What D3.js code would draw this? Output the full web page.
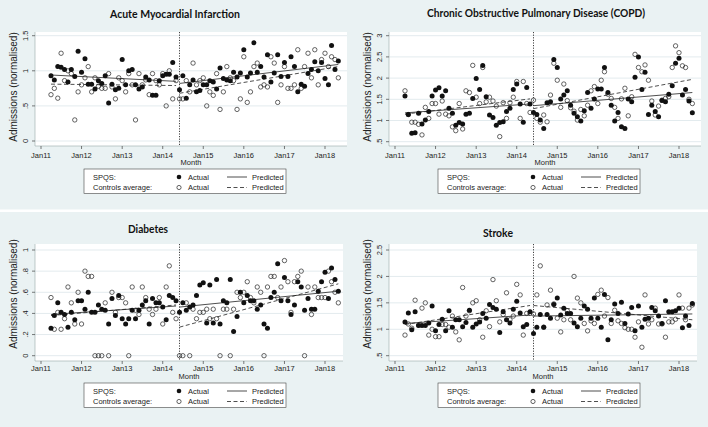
<!DOCTYPE html>
<html><head><meta charset="utf-8">
<script src="https://cdn.jsdelivr.net/npm/d3@7"></script>
<style>body{margin:0;background:#fff}svg{display:block}</style>
</head><body>
<svg id="c" width="708" height="427"></svg>
<script>
// ---- data ----
const months = d3.range(86).map(i => new Date(2011, 3 + i, 1)); // Apr 2011 .. May 2018
const tickDates = d3.range(2011, 2019).map(y => new Date(y, 0, 1));
const tickLabels = ["Jan11","Jan12","Jan13","Jan14","Jan15","Jan16","Jan17","Jan18"];
const interventionDate = new Date(2014, 5, 1);
const preStart = new Date(2011, 3, 1), preEnd = new Date(2014, 4, 1);
const postStart = new Date(2014, 5, 1), postEnd = new Date(2018, 4, 1);

const titles = ["Acute Myocardial Infarction","Chronic Obstructive Pulmonary Disease (COPD)","Diabetes","Stroke"];

const amiSpqs = [0.93,0.87,1.06,1.05,1.02,0.84,1.02,0.92,1.28,0.98,1.17,0.81,0.81,0.74,0.86,0.82,0.93,0.54,0.81,0.73,0.75,1.16,0.80,1.00,1.02,0.80,0.74,0.77,0.91,0.87,0.65,0.65,0.86,0.93,0.95,0.95,1.12,0.91,0.73,0.93,0.61,0.80,0.87,0.70,0.72,0.80,0.80,0.86,0.84,0.74,1.04,0.89,0.87,0.86,0.98,0.91,0.97,1.30,0.91,0.97,1.40,0.98,1.06,0.91,1.23,0.84,0.97,1.23,0.92,1.12,0.92,1.20,1.06,0.70,0.81,0.78,0.96,1.02,1.13,1.00,1.12,0.89,0.80,1.36,1.02,1.14];
const amiControls = [0.66,0.75,0.61,1.25,0.86,1.00,0.96,0.30,0.70,0.80,0.90,1.06,0.70,0.90,0.78,0.75,0.75,0.96,0.77,0.60,0.90,0.86,0.70,0.96,0.80,0.30,0.96,0.80,0.87,0.66,0.96,0.86,0.80,0.96,0.50,1.00,0.60,0.86,0.60,0.60,0.86,0.70,1.11,0.80,0.86,0.90,0.50,0.70,0.65,0.96,0.45,0.70,1.06,0.90,0.86,0.45,0.60,1.20,0.55,0.70,1.06,1.11,0.77,0.80,0.77,1.20,1.11,0.55,0.80,1.06,0.75,0.75,0.80,1.30,0.75,1.06,1.25,0.90,1.30,0.80,1.16,1.25,1.06,1.20,1.16,0.90];
const amiPredSpqs = [0.94, 0.85, 0.82, 1.09];     // pre start, pre end, post start, post end
const amiPredControls = [0.81, 0.79, 0.68, 1.06];

const copdSpqs = [1.58,1.14,0.70,0.71,1.17,0.92,1.01,1.21,1.58,1.72,1.77,1.58,1.70,1.29,1.17,0.89,0.95,0.92,1.15,1.17,1.52,1.99,1.73,2.30,1.56,1.13,1.07,0.89,0.95,0.97,1.21,1.29,1.73,1.86,1.39,0.96,1.78,1.39,1.19,1.14,1.01,0.81,1.42,1.44,2.44,2.25,1.51,1.60,1.70,1.36,1.17,1.09,0.99,1.23,1.66,1.29,1.51,1.74,1.74,2.25,1.66,1.36,0.99,1.19,0.85,0.81,1.51,1.44,2.02,2.50,1.73,2.14,1.14,1.36,1.21,1.09,1.47,1.44,1.62,1.82,2.35,2.47,1.60,1.73,1.46,1.18];
const copdControls = [1.70,1.14,0.96,0.96,0.91,0.66,1.31,1.05,1.40,1.40,1.15,1.46,1.15,1.11,0.85,0.76,1.40,0.80,1.70,1.66,2.30,1.55,1.40,2.25,1.44,1.55,1.46,1.34,0.62,1.42,1.05,1.42,1.55,1.92,1.05,1.92,1.40,1.19,1.48,1.05,0.96,1.13,0.97,1.60,2.35,1.95,1.31,1.86,1.47,1.30,1.22,1.01,1.26,1.11,1.36,1.70,1.80,1.40,1.95,2.15,1.62,1.52,1.31,1.05,1.51,1.76,1.11,1.56,2.56,2.25,2.15,2.31,1.95,1.46,1.13,1.34,1.48,1.52,1.56,2.25,2.76,2.60,2.29,2.25,1.50,1.40];
const copdPredSpqs = [1.18, 1.39, 1.35, 1.66];
const copdPredControls = [1.15, 1.51, 1.28, 1.97];

const diabSpqs = [0.26,0.38,0.50,0.41,0.39,0.27,0.41,0.34,0.52,0.52,0.44,0.60,0.41,0.41,0.48,0.44,0.43,0.30,0.54,0.38,0.57,0.35,0.30,0.35,0.43,0.35,0.43,0.48,0.52,0.30,0.54,0.50,0.50,0.46,0.34,0.57,0.55,0.52,0.41,0.50,0.43,0.46,0.48,0.57,0.67,0.69,0.31,0.67,0.31,0.72,0.30,0.52,0.50,0.72,0.23,0.37,0.60,0.50,0.57,0.52,0.52,0.44,0.48,0.30,0.26,0.55,0.60,0.87,0.52,0.74,0.52,0.39,0.48,0.70,0.65,0.43,0.54,0.44,0.44,0.61,0.70,0.79,0.54,0.83,0.72,0.61];
const diabControls = [0.55,0.25,0.41,0.25,0.35,0.65,0.50,0.30,0.60,0.30,0.80,0.75,0.75,0,0,0,0.50,0,0.60,0.41,0.55,0.55,0.50,0,0.65,0.43,0.39,0.65,0.55,0.44,0.39,0.44,0.55,0.30,0.65,0.85,0.41,0.35,0,0,0.50,0,0.44,0.35,0.41,0.41,0.44,0.35,0.44,0.35,0,0.44,0.44,0,0.44,0.60,0.55,0.60,0.70,0.55,0.50,0.65,0.60,0,0.65,0.75,0.75,0.55,0.65,0.90,0.70,0.41,0.70,0.75,0.80,0,0.65,0.39,0.65,0.55,0.55,0.55,0.80,0.70,0.60,0.50];
const diabPredSpqs = [0.39, 0.47, 0.46, 0.61];
const diabPredControls = [0.38, 0.48, 0.27, 0.68];

const strokeSpqs = [1.14,1.31,0.99,1.33,1.07,1.07,1.07,1.12,1.44,0.97,1.09,1.19,0.97,1.35,1.04,1.18,1.18,1.05,1.13,1.36,1.04,1.10,1.14,1.30,1.21,1.47,1.41,1.38,0.94,1.33,1.18,1.12,1.38,1.53,1.31,1.05,1.09,1.33,0.92,1.04,1.28,1.04,1.28,1.21,1.47,1.59,1.27,1.40,1.30,1.30,1.12,1.05,1.21,1.44,1.38,1.21,1.59,1.21,1.04,1.66,0.80,1.18,1.48,1.30,1.51,1.11,1.29,1.41,0.97,1.44,1.04,1.19,1.21,1.41,1.35,1.25,1.11,1.54,1.33,1.33,1.35,1.40,1.03,1.25,1.07,1.49];
const strokeControls = [0.89,1.10,1.02,1.55,1.08,1.40,1.50,0.89,1.00,0.86,0.86,1.09,1.09,1.04,1.25,0.95,0.80,1.79,1.25,1.35,1.50,1.54,1.18,0.85,1.35,1.05,1.94,1.54,1.14,1.28,1.69,1.18,1.25,1.85,1.65,0.89,1.30,1.30,1.29,1.65,2.20,1.04,1.46,1.74,1.48,1.21,0.95,1.18,1.35,1.18,2.00,1.59,1.50,1.11,0.97,1.16,1.11,1.66,1.74,1.25,1.60,1.11,1.36,1.16,1.11,1.03,1.00,1.00,0.85,1.14,0.66,1.65,1.10,1.18,1.40,1.10,1.10,0.85,1.14,1.14,1.19,1.65,1.40,1.18,1.40,1.46];
const strokePredSpqs = [1.11, 1.27, 1.25, 1.29];
const strokePredControls = [1.09, 1.45, 1.45, 1.18];

const amiYTicks = [0, 0.5, 1, 1.5], amiYLabels = ["0", ".5", "1", "1.5"];
const copdYTicks = [0.5, 1, 1.5, 2, 2.5, 3], copdYLabels = [".5", "1", "1.5", "2", "2.5", "3"];
const diabYTicks = [0, 0.2, 0.4, 0.6, 0.8, 1], diabYLabels = ["0", ".2", ".4", ".6", ".8", "1"];
const strokeYTicks = [0.5, 1, 1.5, 2, 2.5], strokeYLabels = [".5", "1", "1.5", "2", "2.5"];

const legendGroups = ["SPQS:", "Controls average:"];
const legendActual = "Actual", legendPredicted = "Predicted";
const yTitle = "Admissions (normalised)", xTitle = "Month";

// ---- layout ----
const BG = "#eaf2f3";
const panels = [
  {title: titles[0], spqs: amiSpqs, ctrl: amiControls, pS: amiPredSpqs, pC: amiPredControls, yd: [0, 1.5], yt: amiYTicks, yl: amiYLabels,
   L: 35, R: 347, T: 32, B: 146, xr: [41, 325], yr: [141, 35.7], tx: 175, ty: 13, tw: 130, ox: 0, tly: 155, my: 162.5, lx: 84, ly: 169, yty: 87},
  {title: titles[1], spqs: copdSpqs, ctrl: copdControls, pS: copdPredSpqs, pC: copdPredControls, yd: [0.5, 3], yt: copdYTicks, yl: copdYLabels,
   L: 389, R: 701, T: 32, B: 146, xr: [395, 679], yr: [141.7, 35.7], tx: 536, ty: 12, tw: 218, ox: 354, tly: 155, my: 162.5, lx: 438, ly: 169, yty: 87},
  {title: titles[2], spqs: diabSpqs, ctrl: diabControls, pS: diabPredSpqs, pC: diabPredControls, yd: [0, 1], yt: diabYTicks, yl: diabYLabels,
   L: 35, R: 343, T: 244, B: 361, xr: [41, 325], yr: [355.7, 250], tx: 148, ty: 228, tw: 40, ox: 0, tly: 368.3, my: 376, lx: 84, ly: 383, yty: 294},
  {title: titles[3], spqs: strokeSpqs, ctrl: strokeControls, pS: strokePredSpqs, pC: strokePredControls, yd: [0.5, 2.5], yt: strokeYTicks, yl: strokeYLabels,
   L: 389, R: 697, T: 244, B: 361, xr: [395, 679], yr: [355.7, 250], tx: 498, ty: 232, tw: 30, ox: 354, tly: 368.3, my: 376, lx: 438, ly: 383, yty: 294}
];

const svg = d3.select("#c");
svg.append("rect").attr("width", 708).attr("height", 427).attr("fill", BG);
svg.append("rect").attr("x", 0).attr("y", 209.5).attr("width", 708).attr("height", 2.5).attr("fill", "#fff");

const AX = "Liberation Sans, Arial, sans-serif";

panels.forEach(p => {
  const g = svg.append("g");
  const x = d3.scaleTime().domain([tickDates[0], tickDates[7]]).range(p.xr);
  const y = d3.scaleLinear().domain(p.yd).range(p.yr);

  g.append("rect").attr("x", p.L).attr("y", p.T).attr("width", p.R - p.L).attr("height", p.B - p.T).attr("fill", "#fff");

  // gridlines
  g.selectAll(".grid").data(p.yt).enter().append("line")
    .attr("x1", p.L).attr("x2", p.R).attr("y1", d => y(d)).attr("y2", d => y(d))
    .attr("stroke", "#e3ebee").attr("stroke-width", 1);

  // y axis
  g.append("line").attr("x1", p.L).attr("x2", p.L).attr("y1", p.T).attr("y2", p.B).attr("stroke", "#9aa").attr("stroke-width", 0.6);
  g.selectAll(".yt").data(p.yt).enter().append("line")
    .attr("x1", p.L - 3).attr("x2", p.L).attr("y1", d => y(d)).attr("y2", d => y(d)).attr("stroke", "#444").attr("stroke-width", 0.7);
  g.selectAll(".yl").data(p.yt).enter().append("text")
    .attr("transform", d => `translate(${p.L - 10},${y(d)}) rotate(-90)`)
    .attr("text-anchor", "middle").attr("dominant-baseline", "central")
    .attr("font-family", AX).attr("font-size", 7.5).attr("fill", "#222")
    .text((d, i) => p.yl[i]);
  g.append("text").attr("transform", `translate(${p.ox + 13},${p.yty}) rotate(-90)`)
    .attr("text-anchor", "middle").attr("dominant-baseline", "central")
    .attr("font-family", AX).attr("font-size", 10).attr("fill", "#222").text(yTitle);

  // x axis
  g.append("line").attr("x1", p.L).attr("x2", p.R).attr("y1", p.B).attr("y2", p.B).attr("stroke", "#9aa").attr("stroke-width", 0.6);
  g.selectAll(".xt").data(tickDates).enter().append("line")
    .attr("x1", d => x(d)).attr("x2", d => x(d)).attr("y1", p.B).attr("y2", p.B + 3).attr("stroke", "#444").attr("stroke-width", 0.7);
  g.selectAll(".xl").data(tickDates).enter().append("text")
    .attr("x", d => x(d)).attr("y", p.tly).attr("text-anchor", "middle").attr("dominant-baseline", "central")
    .attr("font-family", AX).attr("font-size", 7.5).attr("fill", "#222")
    .text((d, i) => tickLabels[i]);
  g.append("text").attr("x", (p.L + p.R) / 2).attr("y", p.my).attr("text-anchor", "middle").attr("dominant-baseline", "central")
    .attr("font-family", AX).attr("font-size", 7.5).attr("fill", "#222").text(xTitle);

  // title
  g.append("text").attr("x", p.tx).attr("y", p.ty).attr("text-anchor", "middle").attr("dominant-baseline", "central")
    .attr("font-family", "Lato, 'Open Sans', sans-serif").attr("font-weight", "bold").attr("font-size", 11)
    .attr("textLength", p.tw).attr("lengthAdjust", "spacingAndGlyphs").attr("fill", "#111").text(p.title);

  // intervention line
  g.append("line").attr("x1", x(interventionDate)).attr("x2", x(interventionDate)).attr("y1", p.T).attr("y2", p.B)
    .attr("stroke", "#111").attr("stroke-width", 0.8).attr("stroke-dasharray", "1.2,1.4");

  // predicted lines
  const seg = (vals, dash) => {
    [[preStart, vals[0], preEnd, vals[1]], [postStart, vals[2], postEnd, vals[3]]].forEach(s => {
      g.append("line").attr("x1", x(s[0])).attr("y1", y(s[1])).attr("x2", x(s[2])).attr("y2", y(s[3]))
        .attr("stroke", "#222").attr("stroke-width", 0.8).attr("stroke-dasharray", dash);
    });
  };
  seg(p.pS, null);
  seg(p.pC, "4,2.5");

  // points
  g.selectAll(".oc").data(p.ctrl).enter().append("circle")
    .attr("cx", (d, i) => x(months[i])).attr("cy", d => y(d)).attr("r", 2.2)
    .attr("fill", "none").attr("stroke", "#222").attr("stroke-width", 0.7);
  g.selectAll(".fc").data(p.spqs).enter().append("circle")
    .attr("cx", (d, i) => x(months[i])).attr("cy", d => y(d)).attr("r", 2.5)
    .attr("fill", "#111");

  // legend
  const lg = g.append("g").attr("transform", `translate(${p.lx},${p.ly})`);
  lg.append("rect").attr("width", 202).attr("height", 24.5).attr("fill", "#fff").attr("stroke", "#444").attr("stroke-width", 0.6);
  [8, 18.5].forEach((ry, k) => {
    lg.append("text").attr("x", 9).attr("y", ry).attr("dominant-baseline", "central")
      .attr("font-family", AX).attr("font-size", 7.5).attr("fill", "#222").text(legendGroups[k]);
    const c = lg.append("circle").attr("cx", 95).attr("cy", ry).attr("r", k === 0 ? 2.3 : 2.1);
    if (k === 0) c.attr("fill", "#111"); else c.attr("fill", "none").attr("stroke", "#222").attr("stroke-width", 0.7);
    lg.append("text").attr("x", 104).attr("y", ry).attr("dominant-baseline", "central")
      .attr("font-family", AX).attr("font-size", 7.5).attr("fill", "#222").text(legendActual);
    lg.append("line").attr("x1", 143).attr("x2", 163).attr("y1", ry).attr("y2", ry)
      .attr("stroke", "#222").attr("stroke-width", 0.8).attr("stroke-dasharray", k === 0 ? null : "4,2.5");
    lg.append("text").attr("x", 168).attr("y", ry).attr("dominant-baseline", "central")
      .attr("font-family", AX).attr("font-size", 7.5).attr("fill", "#222").text(legendPredicted);
  });
});
</script>
</body></html>
